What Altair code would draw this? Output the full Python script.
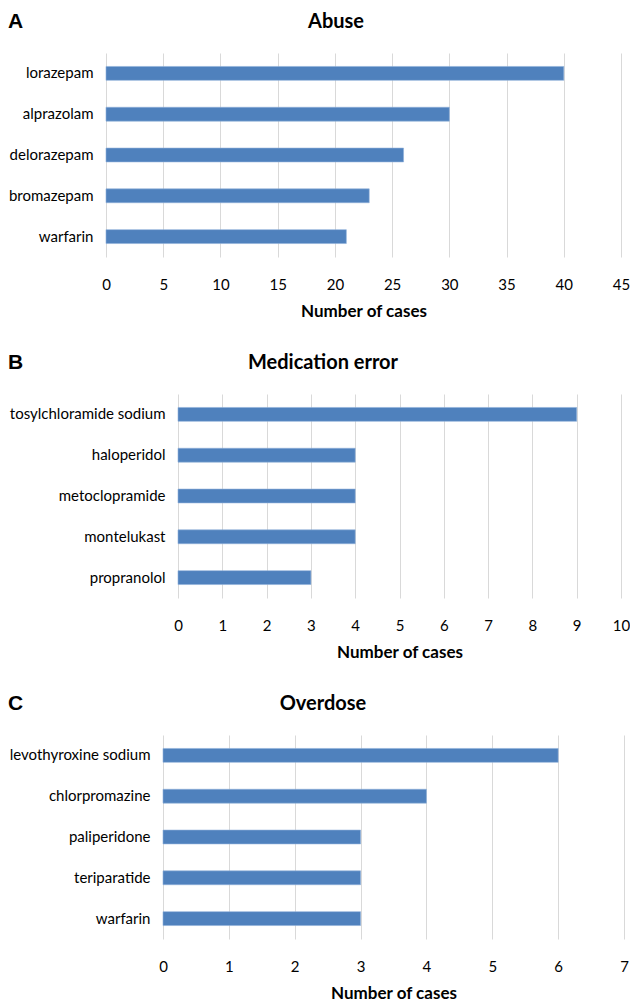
import altair as alt
import pandas as pd

# ---- data ----
abuse_drugs = ["lorazepam", "alprazolam", "delorazepam", "bromazepam", "warfarin"]
abuse_cases = [40, 30, 26, 23, 21]

med_drugs = ["tosylchloramide sodium", "haloperidol", "metoclopramide", "montelukast", "propranolol"]
med_cases = [9, 4, 4, 4, 3]

over_drugs = ["levothyroxine sodium", "chlorpromazine", "paliperidone", "teriparatide", "warfarin"]
over_cases = [6, 4, 3, 3, 3]

panel_titles = ["Abuse", "Medication error", "Overdose"]
panel_letters = ["A", "B", "C"]
x_max = [45, 10, 7]
x_step = [5, 1, 1]
x_title = "Number of cases"

FONT = "Lato"
BLUE = "#4F81BD"
GRID = "#D9D9D9"
PLOT_H = 204
HEAD_Y = -31


def panel(drugs, cases, title, letter, xmax, step, width, x_start, title_x):
    df = pd.DataFrame({"drug": drugs, "cases": cases})
    bars = (
        alt.Chart(df)
        .mark_bar(color=BLUE, stroke="#8FB0DA", strokeWidth=0.6)
        .encode(
            x=alt.X(
                "cases:Q",
                scale=alt.Scale(domain=[0, xmax], nice=False, zero=True, range=[x_start, width]),
                axis=alt.Axis(
                    values=list(range(0, xmax + 1, step)),
                    title=x_title,
                    grid=True,
                    gridColor=GRID,
                    gridWidth=1,
                    domain=False,
                    ticks=False,
                    labelPadding=20,
                    labelFont=FONT,
                    labelFontSize=15,
                    labelColor="#000000",
                    labelFlush=False,
                    titleFont=FONT,
                    titleFontSize=17,
                    titleFontWeight="bold",
                    titleColor="#000000",
                    titlePadding=11,
                ),
            ),
            y=alt.Y(
                "drug:N",
                sort=drugs,
                scale=alt.Scale(paddingInner=0.66, paddingOuter=0.33),
                axis=alt.Axis(
                    title=None,
                    offset=-x_start,
                    domain=False,
                    ticks=False,
                    grid=False,
                    labelPadding=13,
                    labelFont=FONT,
                    labelFontSize=15,
                    labelColor="#000000",
                    labelLimit=300,
                ),
            ),
        )
    )
    letter_mark = (
        alt.Chart(pd.DataFrame({"t": [letter]}))
        .mark_text(font="Liberation Sans", fontSize=21, fontWeight="bold",
                   align="left", baseline="middle", color="#000000")
        .encode(text="t:N", x=alt.value(-92), y=alt.value(HEAD_Y))
    )
    title_mark = (
        alt.Chart(pd.DataFrame({"t": [title]}))
        .mark_text(font=FONT, fontSize=20, fontWeight="bold",
                   align="center", baseline="middle", color="#000000")
        .encode(text="t:N", x=alt.value(title_x), y=alt.value(HEAD_Y))
    )
    return alt.layer(bars, letter_mark, title_mark).properties(width=width, height=PLOT_H)


a = panel(abuse_drugs, abuse_cases, panel_titles[0], panel_letters[0], x_max[0], x_step[0], 521, 6, 236)
b = panel(med_drugs, med_cases, panel_titles[1], panel_letters[1], x_max[1], x_step[1], 521, 78, 223)
c = panel(over_drugs, over_cases, panel_titles[2], panel_letters[2], x_max[2], x_step[2], 524, 63, 223)

chart = (
    alt.vconcat(a, b, c, spacing=33)
    .properties(padding={"top": 3, "left": 0, "right": 0, "bottom": 0}, background="white")
    .configure_view(strokeWidth=0, stroke=None)
)

chart.save("out.html", embed_options={"renderer": "svg", "actions": False})
